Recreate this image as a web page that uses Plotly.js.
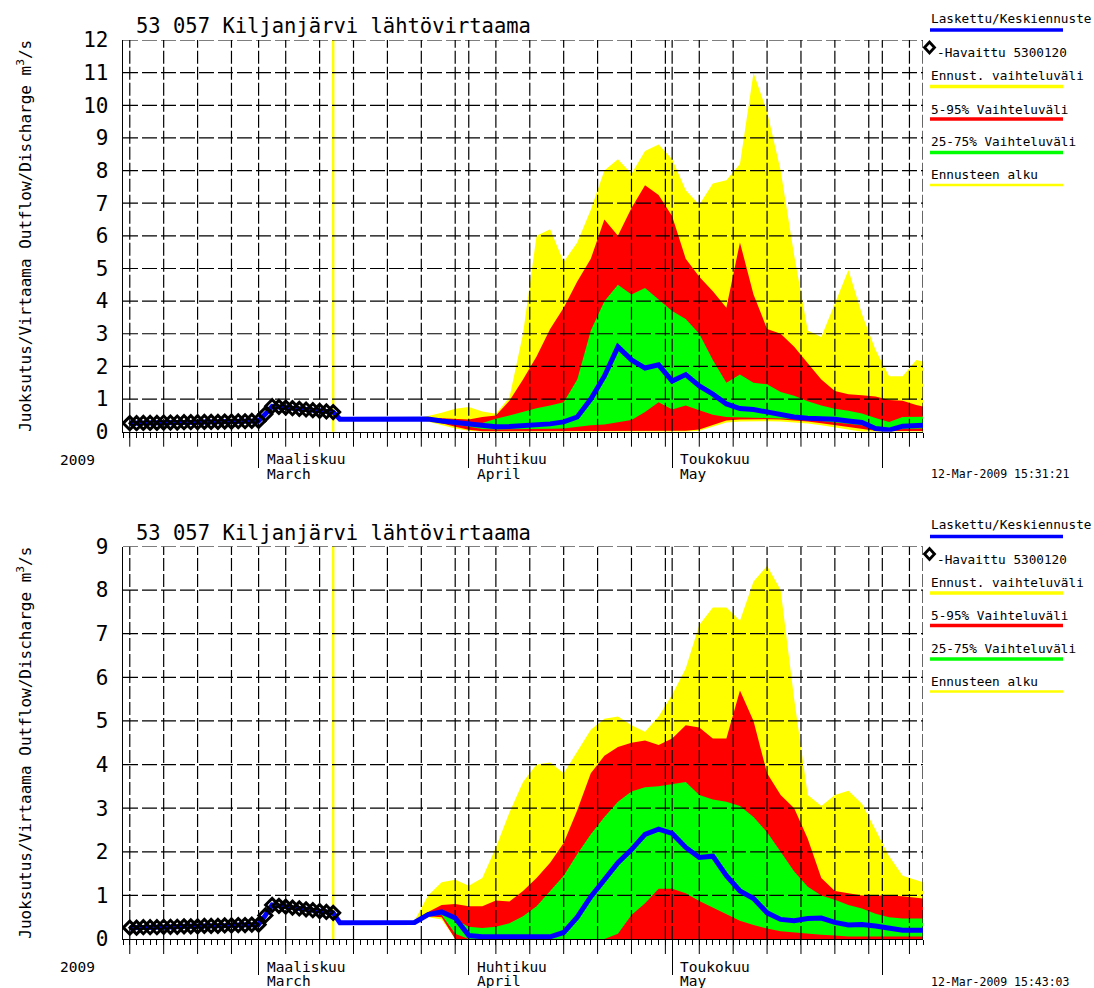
<!DOCTYPE html>
<html><head><meta charset="utf-8">
<script src="https://cdn.plot.ly/plotly-3.0.1.min.js"></script>
<style>html,body{margin:0;padding:0;background:#fff}#chart{width:1094px;height:988px}</style>
</head><body><div id="chart"></div>
<script>
// ---------------- DATA ----------------
const obsDates = ["2009-02-10","2009-02-11","2009-02-12","2009-02-13","2009-02-14","2009-02-15","2009-02-16","2009-02-17","2009-02-18","2009-02-19","2009-02-20","2009-02-21","2009-02-22","2009-02-23","2009-02-24","2009-02-25","2009-02-26","2009-02-27","2009-02-28","2009-03-01","2009-03-02","2009-03-03","2009-03-04","2009-03-05","2009-03-06","2009-03-07","2009-03-08","2009-03-09","2009-03-10","2009-03-11","2009-03-12"];
const observed = [0.26,0.26,0.27,0.27,0.27,0.28,0.28,0.28,0.29,0.29,0.29,0.30,0.30,0.30,0.31,0.31,0.32,0.32,0.33,0.33,0.54,0.78,0.76,0.74,0.72,0.70,0.68,0.66,0.64,0.62,0.60];

const fcDates = ["2009-03-12","2009-03-13","2009-03-14","2009-03-16","2009-03-18","2009-03-20","2009-03-22","2009-03-24","2009-03-26","2009-03-28","2009-03-30","2009-04-01","2009-04-03","2009-04-05","2009-04-07","2009-04-09","2009-04-11","2009-04-13","2009-04-15","2009-04-17","2009-04-19","2009-04-21","2009-04-23","2009-04-25","2009-04-27","2009-04-29","2009-05-01","2009-05-03","2009-05-05","2009-05-07","2009-05-09","2009-05-11","2009-05-13","2009-05-15","2009-05-17","2009-05-19","2009-05-21","2009-05-23","2009-05-25","2009-05-27","2009-05-29","2009-05-31","2009-06-02","2009-06-04","2009-06-06","2009-06-07"];

// upper chart (run 15:31:21)
const topMean = [0.60,0.38,0.38,0.38,0.38,0.38,0.38,0.41, 0.39,0.33,0.28, 0.23,0.19,0.15,0.16,0.18,0.20,0.24,0.30,0.45, 1.00,1.70,2.60,2.20,1.95,2.05, 1.55,1.75,1.40,1.15,0.85,0.71,0.68,0.60,0.52,0.45,0.41,0.41,0.38,0.33,0.28,0.10, 0.05,0.17,0.20,0.20];
const topMax  = [0.60,0.38,0.38,0.38,0.38,0.38,0.39,0.42, 0.48,0.58,0.70, 0.76,0.62,0.55,1.05,3.00,6.00,6.20,5.20,5.80, 6.80,8.00,8.35,7.90,8.60,8.80, 8.35,7.40,6.95,7.60,7.70,8.20,11.0,9.80,8.00,5.40,3.10,2.90,3.90,4.95,3.60,2.50, 1.70,1.70,2.20,2.15];
const topP95  = [0.60,0.38,0.38,0.38,0.38,0.38,0.39,0.41, 0.43,0.41,0.38, 0.37,0.45,0.50,0.95,1.60,2.30,3.15,3.80,4.60, 5.30,6.50,6.00,6.85,7.55,7.25, 6.60,5.30,4.75,4.30,3.80,5.80,4.20,3.15,3.00,2.60,2.10,1.60,1.25,1.15,1.12,1.08, 0.97,0.95,0.82,0.77];
const topP75  = [0.60,0.38,0.38,0.38,0.38,0.38,0.39,0.41, 0.40,0.37,0.33, 0.27,0.27,0.40,0.50,0.62,0.72,0.80,0.90,1.60, 3.10,4.00,4.50,4.20,4.40,4.05, 3.70,3.45,3.00,2.20,1.50,1.75,1.50,1.45,1.22,1.10,0.93,0.80,0.70,0.64,0.56,0.42, 0.30,0.45,0.46,0.46];
const topP25  = [0.60,0.38,0.38,0.38,0.38,0.38,0.39,0.41, 0.37,0.30,0.22, 0.14,0.08,0.07,0.07,0.08,0.08,0.09,0.10,0.15, 0.20,0.22,0.28,0.36,0.60,0.90, 0.68,0.80,0.66,0.52,0.45,0.45,0.43,0.42,0.41,0.40,0.37,0.33,0.28,0.24,0.20,0.12, 0.05,0.08,0.10,0.10];
const topP5   = [0.60,0.38,0.38,0.38,0.38,0.38,0.39,0.41, 0.34,0.26,0.15, 0.06,0.01,0.01,0.01,0.01,0.01,0.01,0.02,0.03, 0.03,0.03,0.03,0.03,0.03,0.03, 0.03,0.03,0.07,0.20,0.34,0.37,0.38,0.38,0.37,0.35,0.31,0.26,0.20,0.13,0.07,0.03, 0.02,0.02,0.02,0.02];
const topMin  = [0.60,0.38,0.38,0.38,0.38,0.38,0.39,0.41, 0.30,0.20,0.10, 0.03,0,0,0,0,0,0,0,0, 0,0,0,0,0,0, 0,0,0.03,0.15,0.28,0.31,0.32,0.32,0.31,0.29,0.25,0.20,0.14,0.07,0,0, 0,0,0,0];

// lower chart (run 15:43:03)
const botMean = [0.60,0.37,0.37,0.37,0.37,0.37,0.37,0.38, 0.56,0.62,0.48, 0.08,0.05,0.05,0.05,0.05,0.05,0.05,0.15,0.50, 0.97,1.35,1.75,2.05,2.40,2.52, 2.42,2.10,1.87,1.90,1.45,1.10,0.93,0.60,0.45,0.42,0.47,0.48,0.38,0.32,0.33,0.30, 0.24,0.20,0.20,0.20];
const botMax  = [0.60,0.37,0.37,0.37,0.37,0.37,0.37,0.42, 1.00,1.30,1.36, 1.22,1.40,2.10,2.90,3.60,4.00,4.05,3.80,4.30, 4.80,5.05,5.10,4.90,4.75,5.10, 5.60,6.20,7.20,7.60,7.60,7.30,8.20,8.55,8.00,5.50,3.30,3.05,3.30,3.40,3.10,2.50, 1.90,1.45,1.35,1.30];
const botP95  = [0.60,0.37,0.37,0.37,0.37,0.37,0.37,0.40, 0.62,0.78,0.80, 0.75,0.75,0.88,0.86,1.10,1.40,1.75,2.20,2.95, 3.80,4.20,4.40,4.50,4.55,4.45, 4.60,4.90,4.85,4.60,4.60,5.70,5.00,3.80,3.30,3.00,2.30,1.40,1.10,1.05,1.00,1.00, 1.00,0.98,0.95,0.93];
const botP75  = [0.60,0.37,0.37,0.37,0.37,0.37,0.37,0.38, 0.56,0.62,0.45, 0.28,0.25,0.28,0.36,0.52,0.75,1.10,1.45,1.95, 2.40,2.80,3.15,3.38,3.48,3.50, 3.55,3.60,3.30,3.20,3.15,3.05,2.80,2.45,2.00,1.55,1.20,1.00,0.90,0.78,0.70,0.58, 0.50,0.47,0.47,0.47];
const botP25  = [0.60,0.37,0.37,0.37,0.37,0.37,0.37,0.38, 0.54,0.55,0.12, 0,0,0,0,0,0,0,0,0, 0,0,0.12,0.55,0.82,1.15, 1.15,1.05,0.87,0.72,0.56,0.42,0.32,0.24,0.18,0.15,0.12,0.10,0.08,0.06,0.06,0.06, 0.06,0.06,0.06,0.06];
const botP5   = [0.60,0.37,0.37,0.37,0.37,0.37,0.37,0.38, 0.52,0.50,0, 0,0,0,0,0,0,0,0,0, 0,0,0,0,0,0, 0,0,0,0,0,0,0,0,0,0,0,0,0,0,0,0, 0,0,0,0];
const botMin  = [0.60,0.37,0.37,0.37,0.37,0.37,0.37,0.38, 0.50,0.45,0, 0,0,0,0,0,0,0,0,0, 0,0,0,0,0,0, 0,0,0,0,0,0,0,0,0,0,0,0,0,0,0,0, 0,0,0,0];

const forecastStart = "2009-03-12";
const xRange = ["2009-02-09","2009-06-07"];
const gridDays = ["2009-02-10","2009-02-15","2009-02-20","2009-02-25","2009-03-01","2009-03-05","2009-03-10","2009-03-15","2009-03-20","2009-03-25","2009-03-30","2009-04-01","2009-04-05","2009-04-10","2009-04-15","2009-04-20","2009-04-25","2009-04-30","2009-05-01","2009-05-05","2009-05-10","2009-05-15","2009-05-20","2009-05-25","2009-05-30","2009-06-01","2009-06-05"];
const monthStarts = ["2009-03-01","2009-04-01","2009-05-01","2009-06-01"];
const monthLabelDates = ["2009-03-01","2009-04-01","2009-05-01"];
const monthFi = ["Maaliskuu","Huhtikuu","Toukokuu"];
const monthEn = ["March","April","May"];
const yearLabel = "2009";
const titleText = "53 057 Kiljanjärvi lähtövirtaama";
const yTitle = "Juoksutus/Virtaama Outflow/Discharge m<sup>3</sup>/s";
const legendTexts = ["Laskettu/Keskiennuste","-Havaittu 5300120","Ennust. vaihteluväli","5-95% Vaihteluväli","25-75% Vaihteluväli","Ennusteen alku"];
const timestamps = ["12-Mar-2009 15:31:21","12-Mar-2009 15:43:03"];
const yMaxes = [12, 9];

// ---------------- LAYOUT HELPERS ----------------
const FONT = "DejaVu Sans Mono";
const L=123, R=923, T=40, B=939;
const px = p => (p-L)/(R-L);
const py = p => (B-p)/(B-T);
const YELLOW="#ffff00", RED="#ff0000", GREEN="#00ff00", BLUE="#0000ff";

const charts = [
  {xa:"x", ya:"y", dom:[py(431.7),1], top:40, bottom:431.7, ymax:yMaxes[0],
   s:{min:topMin,max:topMax,p5:topP5,p95:topP95,p25:topP25,p75:topP75,mean:topMean}, ts:timestamps[0]},
  {xa:"x2", ya:"y2", dom:[0,py(546.5)], top:546.5, bottom:939, ymax:yMaxes[1],
   s:{min:botMin,max:botMax,p5:botP5,p95:botP95,p25:botP25,p75:botP75,mean:botMean}, ts:timestamps[1]}
];

const data=[], shapes=[], annotations=[];

charts.forEach((c,ci)=>{
  const base = {x:fcDates, mode:"lines", xaxis:c.xa, yaxis:c.ya, showlegend:false, hoverinfo:"skip"};
  data.push(Object.assign({}, base, {y:c.s.min, line:{width:0,color:YELLOW}}));
  data.push(Object.assign({}, base, {y:c.s.max, line:{width:0,color:YELLOW}, fill:"tonexty", fillcolor:YELLOW}));
  data.push(Object.assign({}, base, {y:c.s.p5, line:{width:0,color:RED}}));
  data.push(Object.assign({}, base, {y:c.s.p95, line:{width:0,color:RED}, fill:"tonexty", fillcolor:RED}));
  data.push(Object.assign({}, base, {y:c.s.p25, line:{width:0,color:GREEN}}));
  data.push(Object.assign({}, base, {y:c.s.p75, line:{width:0,color:GREEN}, fill:"tonexty", fillcolor:GREEN}));
  // grid (drawn above the bands, like the original)
  const vx=[], vy=[];
  gridDays.concat([xRange[1]]).forEach(d=>{vx.push(d,d,null); vy.push(0,c.ymax,null);});
  data.push({x:vx, y:vy, mode:"lines", xaxis:c.xa, yaxis:c.ya, showlegend:false, hoverinfo:"skip",
             line:{color:"#000", width:1.2, dash:"13px,3px"}});
  const hx=[], hy=[];
  for(let k=1;k<=c.ymax;k++){hx.push(xRange[0],xRange[1],null); hy.push(k,k,null);}
  data.push({x:hx, y:hy, mode:"lines", xaxis:c.xa, yaxis:c.ya, showlegend:false, hoverinfo:"skip",
             line:{color:"#000", width:1.2, dash:"15px,4px"}});
  // computed / forecast mean line
  data.push({x:obsDates.concat(fcDates.slice(1)), y:observed.concat(c.s.mean.slice(1)), mode:"lines",
             xaxis:c.xa, yaxis:c.ya, showlegend:false, hoverinfo:"skip", line:{color:BLUE, width:5}});
  // observed
  data.push({x:obsDates, y:observed, mode:"markers", xaxis:c.xa, yaxis:c.ya, showlegend:false, hoverinfo:"skip",
             marker:{symbol:"diamond-open", size:10, color:"#000", line:{width:3, color:"#000"}}});

  // forecast start line
  shapes.push({type:"line", xref:c.xa, yref:c.ya+" domain", x0:forecastStart, x1:forecastStart, y0:0, y1:1,
               line:{color:YELLOW, width:2.5}, layer:"below"});
  // 5-day ticks below axis
  const h = c.bottom - c.top;
  gridDays.filter(d=>monthStarts.indexOf(d)<0).forEach(d=>{
    shapes.push({type:"line", xref:c.xa, yref:c.ya+" domain", x0:d, x1:d, y0:0, y1:-15/h, line:{color:"#000", width:1}});
  });

  const off = c.top - 40;
  // title
  annotations.push({xref:"paper", yref:"paper", x:px(134), y:py(26.5+off), xanchor:"left", yanchor:"middle",
    text:titleText, showarrow:false, font:{family:FONT, size:20.5, color:"#000"}});
  // y title
  annotations.push({xref:"paper", yref:"paper", x:px(25), y:py((c.top+c.bottom)/2), xanchor:"center", yanchor:"middle",
    text:yTitle, textangle:-90, showarrow:false, font:{family:FONT, size:16, color:"#000"}});
  // year
  annotations.push({xref:"paper", yref:"paper", x:px(58), y:py(c.bottom+28), xanchor:"left", yanchor:"middle",
    text:yearLabel, showarrow:false, font:{family:FONT, size:14.5, color:"#000"}});
  // month labels
  monthLabelDates.forEach((d,i)=>{
    annotations.push({xref:c.xa, yref:"paper", x:d, xshift:6, y:py(c.bottom+27.5), xanchor:"left", yanchor:"middle",
      text:monthFi[i], showarrow:false, font:{family:FONT, size:14.5, color:"#000"}});
    annotations.push({xref:c.xa, yref:"paper", x:d, xshift:6, y:py(c.bottom+42), xanchor:"left", yanchor:"middle",
      text:monthEn[i], showarrow:false, font:{family:FONT, size:14.5, color:"#000"}});
  });
  // timestamp
  annotations.push({xref:"paper", yref:"paper", x:px(929), y:py(c.bottom+42.5), xanchor:"left", yanchor:"middle",
    text:c.ts, showarrow:false, font:{family:FONT, size:11.5, color:"#000"}});

  // legend block
  const lf = {family:FONT, size:12.7, color:"#000"};
  const rows = [
    {t:legendTexts[0], ty:18, line:BLUE, ly:30, lw:3.5},
    {t:legendTexts[1], ty:52.5, tx:935},
    {t:legendTexts[2], ty:76, line:YELLOW, ly:86.5, lw:3.5},
    {t:legendTexts[3], ty:109, line:RED, ly:119, lw:3.5},
    {t:legendTexts[4], ty:141.5, line:GREEN, ly:152.5, lw:3.5},
    {t:legendTexts[5], ty:174.5, line:YELLOW, ly:185, lw:2.5}
  ];
  rows.forEach(r=>{
    annotations.push({xref:"paper", yref:"paper", x:px(r.tx||929), y:py(r.ty+off), xanchor:"left", yanchor:"middle",
      text:r.t, showarrow:false, font:lf});
    if(r.line){
      shapes.push({type:"line", xref:"paper", yref:"paper", x0:px(930), x1:px(1063), y0:py(r.ly+off), y1:py(r.ly+off),
        line:{color:r.line, width:r.lw}});
    }
  });
  const cx=929.5, cy=47.5+off;
  shapes.push({type:"path", xref:"paper", yref:"paper",
    path:`M ${px(cx-5)},${py(cy)} L ${px(cx)},${py(cy-5.5)} L ${px(cx+5)},${py(cy)} L ${px(cx)},${py(cy+5.5)} Z`,
    line:{color:"#000", width:2.8}, fillcolor:"#fff"});
});

const xAxisBase = {type:"date", range:xRange, tickmode:"array", tickvals:monthStarts,
  ticks:"outside", ticklen:35, tickwidth:1, tickcolor:"#000", showticklabels:false, showgrid:false, zeroline:false,
  showline:true, linecolor:"#000", linewidth:1,
  minor:{dtick:86400000, ticks:"outside", ticklen:5, tickwidth:1, tickcolor:"#000", showgrid:false}};
const yAxisBase = (ymax)=>({range:[0,ymax], tickmode:"array", tickvals:Array.from({length:ymax+1},(_, i)=>i),
  ticks:"outside", ticklen:9, tickcolor:"rgba(0,0,0,0)", showgrid:false, zeroline:false,
  showline:true, linecolor:"#000", linewidth:1.3, tickfont:{family:FONT, size:21, color:"#000"}, fixedrange:true});

const layout = {
  width:1094, height:988, margin:{l:L, r:1094-R, t:T, b:988-B}, paper_bgcolor:"#fff", plot_bgcolor:"#fff",
  showlegend:false,
  xaxis:Object.assign({}, xAxisBase, {anchor:"y"}),
  xaxis2:Object.assign({}, xAxisBase, {anchor:"y2"}),
  yaxis:Object.assign(yAxisBase(yMaxes[0]), {domain:charts[0].dom, anchor:"x"}),
  yaxis2:Object.assign(yAxisBase(yMaxes[1]), {domain:charts[1].dom, anchor:"x2"}),
  shapes:shapes, annotations:annotations
};

Plotly.newPlot("chart", data, layout, {displayModeBar:false, staticPlot:true});
</script></body></html>
